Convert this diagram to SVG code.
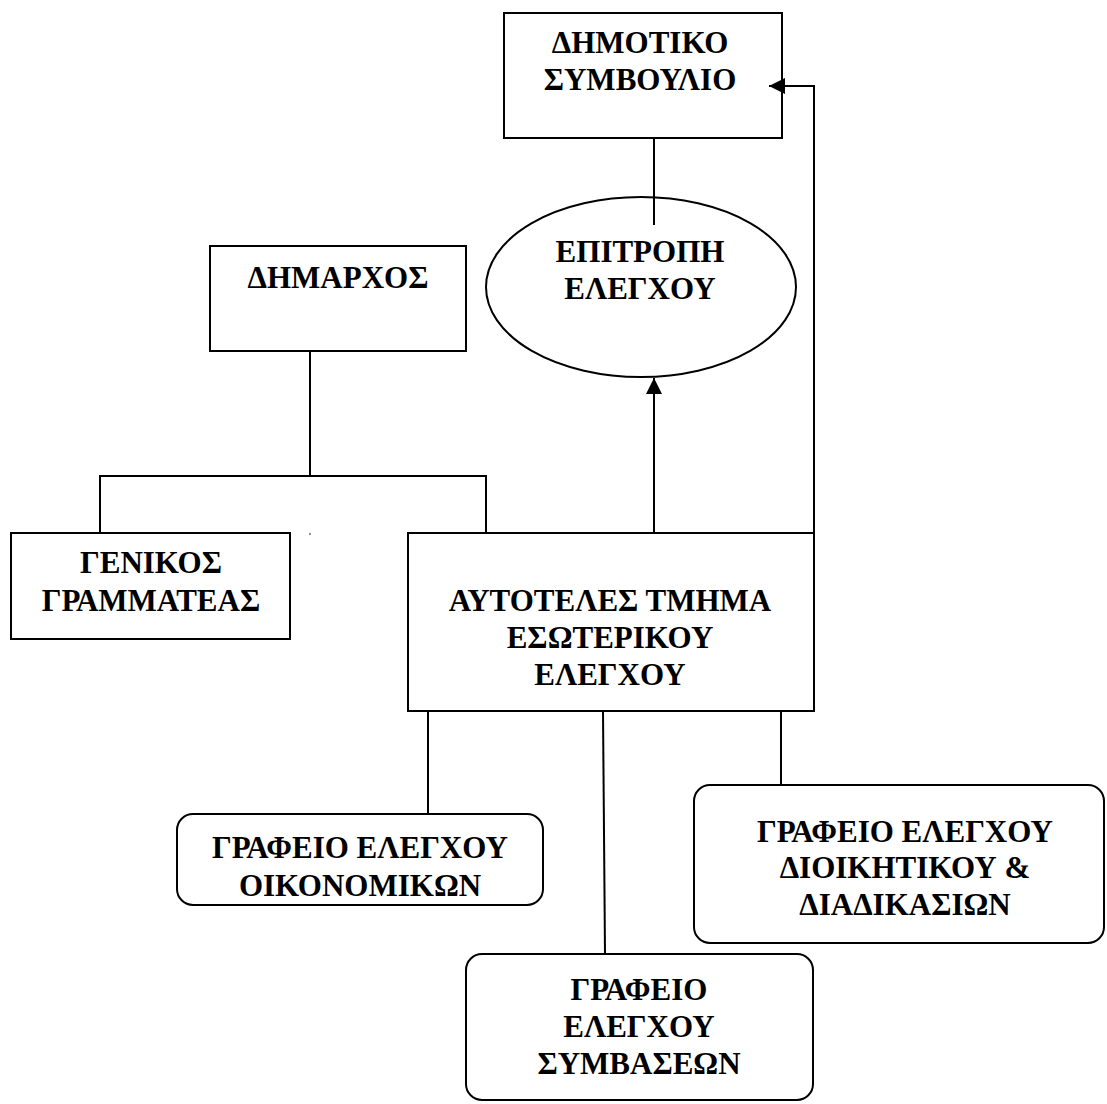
<svg xmlns="http://www.w3.org/2000/svg" width="1107" height="1104" viewBox="0 0 1107 1104">
<style>
.box{fill:none;stroke:#000;stroke-width:2}
.ln{fill:none;stroke:#000;stroke-width:2}
text{font-family:"Liberation Serif","DejaVu Serif","Noto Serif",serif;font-weight:bold;font-size:31px;fill:#000;text-anchor:middle}
</style>
<defs>
<marker id="ah2" viewBox="0 0 10 10" refX="10" refY="5" markerWidth="16" markerHeight="16" markerUnits="userSpaceOnUse" orient="auto">
<path d="M0,0 L10,5 L0,10 z" fill="#000"/>
</marker>
</defs>
<rect width="1107" height="1104" fill="#fff"/>
<g id="dimotiko-symvoulio">
<rect class="box" x="504" y="13" width="278" height="125"/>
<text x="640" y="53">ΔΗΜΟΤΙΚΟ</text>
<text x="640" y="90">ΣΥΜΒΟΥΛΙΟ</text>
</g>
<g id="epitropi-elegxou">
<ellipse class="box" cx="641" cy="287" rx="155" ry="90"/>
<text x="640" y="262">ΕΠΙΤΡΟΠΗ</text>
<text x="640" y="299">ΕΛΕΓΧΟΥ</text>
</g>
<g id="dimarxos">
<rect class="box" x="210" y="246" width="256" height="105"/>
<text x="338" y="288">ΔΗΜΑΡΧΟΣ</text>
</g>
<g id="genikos-grammateas">
<rect class="box" x="11" y="533" width="279" height="106"/>
<text x="151" y="573">ΓΕΝΙΚΟΣ</text>
<text x="151" y="611">ΓΡΑΜΜΑΤΕΑΣ</text>
</g>
<g id="aytoteles-tmima">
<rect class="box" x="408" y="533" width="406" height="178"/>
<text x="610" y="611">ΑΥΤΟΤΕΛΕΣ ΤΜΗΜΑ</text>
<text x="610" y="648">ΕΣΩΤΕΡΙΚΟΥ</text>
<text x="610" y="685">ΕΛΕΓΧΟΥ</text>
</g>
<g id="grafeio-oikonomikon">
<rect class="box" x="177" y="814" width="366" height="91" rx="16" ry="16"/>
<text x="360" y="858">ΓΡΑΦΕΙΟ ΕΛΕΓΧΟΥ</text>
<text x="360" y="896">ΟΙΚΟΝΟΜΙΚΩΝ</text>
</g>
<g id="grafeio-dioikitikou">
<rect class="box" x="694" y="785" width="410" height="158" rx="16" ry="16"/>
<text x="905" y="842">ΓΡΑΦΕΙΟ ΕΛΕΓΧΟΥ</text>
<text x="905" y="878">ΔΙΟΙΚΗΤΙΚΟΥ &amp;</text>
<text x="905" y="915">ΔΙΑΔΙΚΑΣΙΩΝ</text>
</g>
<g id="grafeio-symvaseon">
<rect class="box" x="466" y="954" width="347" height="146" rx="16" ry="16"/>
<text x="639" y="1000">ΓΡΑΦΕΙΟ</text>
<text x="639" y="1037">ΕΛΕΓΧΟΥ</text>
<text x="639" y="1074">ΣΥΜΒΑΣΕΩΝ</text>
</g>
<g id="connectors">
<line class="ln" x1="654" y1="138" x2="654" y2="225"/>
<polyline class="ln" points="814,533 814,86 769,86" marker-end="url(#ah2)"/>
<line class="ln" x1="654" y1="533" x2="654" y2="378" marker-end="url(#ah2)"/>
<line class="ln" x1="310" y1="351" x2="310" y2="476"/>
<polyline class="ln" points="100,533 100,476 486,476 486,533"/>
<line class="ln" x1="428" y1="711" x2="428" y2="814"/>
<line class="ln" x1="603" y1="711" x2="605" y2="954"/>
<line class="ln" x1="781" y1="711" x2="781" y2="785"/>
<circle cx="310" cy="534" r="0.8" fill="#000"/>
</g>
</svg>
